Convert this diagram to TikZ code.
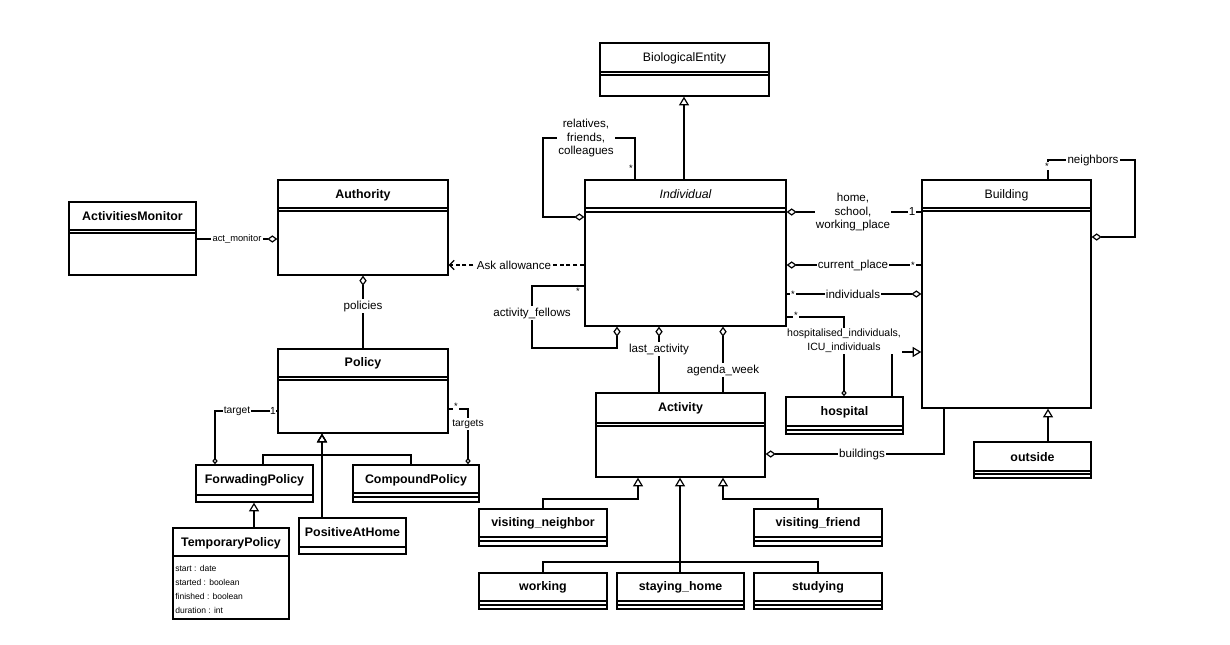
\documentclass[tikz,border=0pt]{standalone}
\usepackage{fontspec}
\setmainfont{Liberation Sans}
\usetikzlibrary{arrows.meta,fit}
\tikzset{
  cls/.style={draw, line width=1pt, inner sep=0pt, fill=white},
  ttl/.style={font=\fontsize{9.3}{11}\selectfont\bfseries, inner sep=0pt},
  ttlr/.style={font=\fontsize{9.2}{11}\selectfont, inner sep=0pt},
  ttli/.style={font=\fontsize{9.2}{11}\selectfont\itshape, inner sep=0pt},
  lbl/.style={font=\fontsize{8.7}{10.4}\selectfont, fill=white, inner sep=1pt, align=center},
  slbl/.style={font=\fontsize{7.7}{10.6}\selectfont, fill=white, inner sep=1pt, align=center},
  attr/.style={font=\fontsize{6.4}{8}\selectfont, inner sep=0pt, anchor=west},
  mult/.style={font=\fontsize{7}{8}\selectfont, fill=white, inner sep=0.6pt},
  conn/.style={line width=0.9pt},
  agg/.style={conn, {Diamond[open,length=7.5pt,width=5.5pt]}-},
  aggend/.style={conn, -{Diamond[open,length=7.5pt,width=5.5pt]}},
  saggend/.style={conn, -{Diamond[open,length=5pt,width=4pt]}},
  gen/.style={conn, -{Triangle[open,length=6.5pt,width=7.5pt]}},
  dep/.style={conn, dash pattern=on 3pt off 2.2pt, -{Straight Barb[length=3.5pt,width=7pt]}},
  divl/.style={line width=0.8pt},
}
\newcommand{\umlcls}[8]{%
  \coordinate (#1-a) at (#2,#3); \coordinate (#1-b) at (#4,#5);
  \node[cls, fit=(#1-a)(#1-b)] (#1) {};
  \node[#7] (#1-t) at ({(#2+#4)/2},#6) {#8};
}
\newcommand{\dvd}[2]{\draw[divl] (#1.west |- 0,#2) -- (#1.east |- 0,#2);}
\begin{document}
\begin{tikzpicture}[x=0.75pt,y=-0.75pt]
\fill[white] (0,0) rectangle (1230,644);
\useasboundingbox (0,0) rectangle (1230,644);

% ---------- classes ----------
\umlcls{bio}{600}{43}{769}{96}{58}{ttlr}{BiologicalEntity}
\dvd{bio}{72}\dvd{bio}{75}
\umlcls{ind}{585}{180}{786}{326}{194}{ttli}{Individual}
\dvd{ind}{208}\dvd{ind}{212}
\umlcls{mon}{69}{202}{196}{275}{216}{ttl}{ActivitiesMonitor}
\dvd{mon}{230}\dvd{mon}{233}
\umlcls{auth}{278}{180}{448}{275}{195}{ttl}{Authority}
\dvd{auth}{208}\dvd{auth}{211}
\umlcls{pol}{278}{349}{448}{433}{363}{ttl}{Policy}
\dvd{pol}{377}\dvd{pol}{380}
\umlcls{fwd}{196}{465}{313}{502}{480}{ttl}{ForwadingPolicy}
\dvd{fwd}{495}
\umlcls{cmp}{353}{465}{479}{502}{480}{ttl}{CompoundPolicy}
\dvd{cmp}{493}\dvd{cmp}{497}
\umlcls{pah}{299}{518}{406}{554}{532}{ttl}{PositiveAtHome}
\dvd{pah}{547}
\umlcls{tmp}{173}{528}{289}{619}{543}{ttl}{TemporaryPolicy}
\dvd{tmp}{556}
\node[attr] (a1) at (175,568) {start : date};
\node[attr] (a2) at (175,582) {started : boolean};
\node[attr] (a3) at (175,596) {finished : boolean};
\node[attr] (a4) at (175,610) {duration : int};

\umlcls{act}{596}{393}{765}{477}{408}{ttl}{Activity}
\dvd{act}{423}\dvd{act}{426}
\umlcls{vn}{479}{509}{607}{546}{523}{ttl}{visiting\_neighbor}
\dvd{vn}{537}\dvd{vn}{541}
\umlcls{vf}{754}{509}{882}{546}{523}{ttl}{visiting\_friend}
\dvd{vf}{537}\dvd{vf}{541}
\umlcls{wrk}{479}{573}{607}{609}{587}{ttl}{working}
\dvd{wrk}{601}\dvd{wrk}{605}
\umlcls{sth}{617}{573}{744}{609}{587}{ttl}{staying\_home}
\dvd{sth}{601}\dvd{sth}{605}
\umlcls{std}{754}{573}{882}{609}{587}{ttl}{studying}
\dvd{std}{601}\dvd{std}{605}

\umlcls{bld}{922}{180}{1091}{408}{195}{ttlr}{Building}
\dvd{bld}{208}\dvd{bld}{211}
\umlcls{hosp}{786}{397}{903}{434}{412}{ttl}{hospital}
\dvd{hosp}{426}\dvd{hosp}{430}
\umlcls{out}{974}{442}{1091}{478}{457}{ttl}{outside}
\dvd{out}{471}\dvd{out}{474}

% ---------- connectors ----------
% generalisations
\draw[gen] (684,0 |- ind.north) -- (684,0 |- bio.south);
\draw[gen] (322,0 |- pah.north) -- (322,0 |- pol.south);
\draw[gen] (263,0 |- fwd.north) -- (263,455) -- (322,455) -- (322,0 |- pol.south);
\draw[gen] (411,0 |- cmp.north) -- (411,455) -- (322,455) -- (322,0 |- pol.south);
\draw[gen] (254,0 |- tmp.north) -- (254,0 |- fwd.south);
\draw[gen] (543,0 |- vn.north) -- (543,499) -- (638,499) -- (638,0 |- act.south);
\draw[gen] (818,0 |- vf.north) -- (818,499) -- (723,499) -- (723,0 |- act.south);
\draw[gen] (680,0 |- sth.north) -- (680,0 |- act.south);
\draw[conn] (543,0 |- wrk.north) -- (543,562) -- (680,562);
\draw[conn] (818,0 |- std.north) -- (818,562) -- (680,562);
\draw[gen] (892,0 |- hosp.north) -- (892,352) -- (bld.west |- 0,352);
\draw[gen] (1048,0 |- out.north) -- (1048,0 |- bld.south);

% relatives loop
\draw[agg] (ind.west |- 0,217) -- (543,217) -- (543,138) -- (635,138) -- (635,0 |- ind.north);
\node[lbl] (lrel) at (586,138) {relatives,\\friends,\\colleagues};
\node[mult] (mrel) at (631,168) {*};

% act_monitor
\draw[aggend] (mon.east |- 0,239) -- (auth.west |- 0,239);
\node[lbl, font=\fontsize{7}{8}\selectfont] (lmon) at (237,239) {act\_monitor};

% ask allowance
\draw[dep] (ind.west |- 0,265) -- (auth.east |- 0,265);
\node[lbl] (lask) at (514,265) {Ask allowance};

% policies
\draw[agg] (363,0 |- auth.south) -- (363,0 |- pol.north);
\node[lbl] (lpol) at (363,306) {policies};

% target
\draw[saggend] (pol.west |- 0,411) -- (215,411) -- (215,0 |- fwd.north);
\node[slbl] (ltgt) at (237,411) {target};
\node[slbl, inner sep=0.3pt] (m1t) at (273,411) {1};

% targets
\draw[saggend] (pol.east |- 0,409) -- (468,409) -- (468,0 |- cmp.north);
\node[mult] (mtg) at (456,406) {*};
\node[slbl] (ltgs) at (468,424) {targets};

% activity_fellows
\draw[aggend] (ind.west |- 0,286) -- (532,286) -- (532,348) -- (617,348) -- (617,0 |- ind.south);
\node[mult] (maf) at (578,291) {*};
\node[lbl] (laf) at (532,313) {activity\_fellows};

% last_activity, agenda_week
\draw[agg] (659,0 |- ind.south) -- (659,0 |- act.north);
\node[lbl] (lla) at (659,349) {last\_activity};
\draw[agg] (723,0 |- ind.south) -- (723,0 |- act.north);
\node[lbl] (law) at (723,370) {agenda\_week};

% buildings
\draw[agg] (act.east |- 0,454) -- (944,454) -- (944,0 |- bld.south);
\node[lbl] (lbd) at (862,454) {buildings};

% home
\draw[agg] (ind.east |- 0,212) -- (bld.west |- 0,212);
\node[lbl] (lhome) at (853,212) {home,\\school,\\working\_place};
\node[lbl, inner sep=0.3pt] (m1h) at (912,212) {1};

% current_place
\draw[agg] (ind.east |- 0,265) -- (bld.west |- 0,265);
\node[lbl] (lcp) at (853,265) {current\_place};
\node[mult] (mcp) at (913,265) {*};

% individuals
\draw[aggend] (ind.east |- 0,294) -- (bld.west |- 0,294);
\node[lbl] (lindv) at (853,294) {individuals};
\node[mult] (mindv) at (793,294) {*};

% hospitalised
\draw[saggend] (ind.east |- 0,317) -- (844,317) -- (844,0 |- hosp.north);
\node[mult] (mhos) at (796,315) {*};
\node[slbl, font=\fontsize{7.9}{10.7}\selectfont] (lhos) at (844,341) {hospitalised\_individuals,\\ICU\_individuals};

% neighbors
\draw[agg] (bld.east |- 0,237) -- (1135,237) -- (1135,160) -- (1048,160) -- (1048,0 |- bld.north);
\node[lbl] (lnb) at (1093,160) {neighbors};
\node[mult] (mnb) at (1047,166) {*};
\end{tikzpicture}
\end{document}
